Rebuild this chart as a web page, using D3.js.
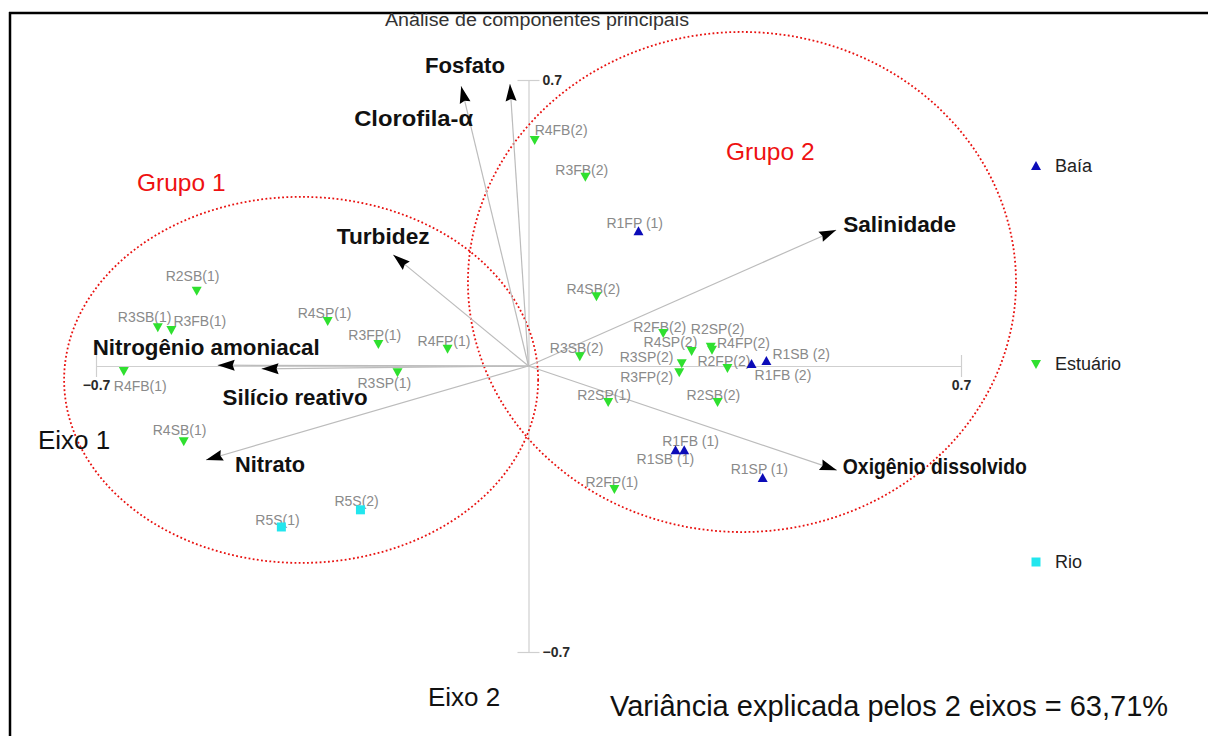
<!DOCTYPE html>
<html>
<head>
<meta charset="utf-8">
<script src="https://cdn.jsdelivr.net/npm/d3@7"></script>
<style>
  html, body { margin: 0; padding: 0; background: #fff; }
  svg { display: block; font-family: "Liberation Sans", Arial, sans-serif; }
</style>
</head>
<body>
<svg id="chart" width="1208" height="736"></svg>
<script>
// ---- Data: PCA biplot (loadings of variables and scores of samples) ----
const variableNames = ["Fosfato", "Clorofila-\u03b1", "Turbidez", "Salinidade",
  "Oxigênio dissolvido", "Nitrogênio amoniacal", "Silício reativo", "Nitrato"];
const variableAxis1 = [-0.030, -0.109, -0.219, 0.498, 0.499, -0.503, -0.432, -0.522];
const variableAxis2 = [0.690, 0.685, 0.272, 0.333, -0.255, 0.002, -0.007, -0.230];

const sampleNames = [
  "R2SB(1)", "R3SB(1)", "R3FB(1)", "R4SP(1)", "R3FP(1)", "R4FP(1)", "R3SP(1)", "R4FB(1)", "R4SB(1)",
  "R5S(1)", "R5S(2)",
  "R4FB(2)", "R3FB(2)", "R1FP (1)", "R4SB(2)", "R2FB(2)", "R2SP(2)", "R4SP(2)", "R4FP(2)", "R3SB(2)",
  "R3SP(2)", "R3FP(2)", "R2FP(2)", "R1SB (2)", "R1FB (2)", "R2SP(1)", "R2SB(2)",
  "R1FB (1)", "R1SB (1)", "R1SP (1)", "R2FP(1)"
];
const sampleGroup = [
  "Estuário", "Estuário", "Estuário", "Estuário", "Estuário", "Estuário", "Estuário", "Estuário", "Estuário",
  "Rio", "Rio",
  "Estuário", "Estuário", "Baía", "Estuário", "Estuário", "Estuário", "Estuário", "Estuário", "Estuário",
  "Estuário", "Estuário", "Estuário", "Baía", "Baía", "Estuário", "Estuário",
  "Baía", "Baía", "Baía", "Estuário"
];
const sampleAxis1 = [
  -0.537, -0.600, -0.578, -0.325, -0.243, -0.131, -0.212, -0.655, -0.558,
  -0.400, -0.272,
  0.010, 0.092, 0.178, 0.110, 0.218, 0.295, 0.264, 0.297, 0.083,
  0.248, 0.244, 0.322, 0.385, 0.361, 0.129, 0.306,
  0.252, 0.238, 0.379, 0.139
];
const sampleAxis2 = [
  0.184, 0.095, 0.088, 0.110, 0.054, 0.042, -0.015, -0.012, -0.184,
  -0.394, -0.352,
  0.553, 0.463, 0.330, 0.171, 0.081, 0.047, 0.037, 0.040, 0.024,
  0.007, -0.015, -0.005, 0.012, 0.005, -0.088, -0.088,
  -0.206, -0.206, -0.274, -0.301
];

const legendGroups = ["Baía", "Estuário", "Rio"];
const axisTicks = [-0.7, 0.7];
const explainedVariance = "63,71%";

// Groups outlined on the plane (centre and radii in axis units)
const groupNames = ["Grupo 1", "Grupo 2"];
const groupCenterAxis1 = [-0.368, 0.3455];
const groupCenterAxis2 = [-0.034, 0.2056];
const groupRadiusAxis1 = [0.3836, 0.4435];
const groupRadiusAxis2 = [0.448, 0.612];

// ---- Layout ----
const svg = d3.select("#chart");
const x = d3.scaleLinear().domain([-0.7, 0.7]).range([96, 961]);
const y = d3.scaleLinear().domain([-0.7, 0.7]).range([652, 80]);

const groupStyle = {
  "Baía": { color: "#0c0cb8", shape: "up" },
  "Estuário": { color: "#2fe02f", shape: "down" },
  "Rio": { color: "#22e6ee", shape: "square" }
};

function markerPath(shape) {
  if (shape === "up") return "M0,-5L5,4L-5,4Z";
  if (shape === "down") return "M0,5L5,-4L-5,-4Z";
  return "M-4.5,-4.5H4.5V4.5H-4.5Z";
}

// Label placement for the sample names (pixel offset of the label's left edge / centre line)
const sampleLabelOffset = {
  "R2SB(1)": [-31, -15], "R3SB(1)": [-40, -10], "R3FB(1)": [2, -9], "R4SP(1)": [-30, -8],
  "R3FP(1)": [-30, -9], "R4FP(1)": [-30, -8], "R3SP(1)": [-40, 11], "R4FB(1)": [-10, 15],
  "R4SB(1)": [-31, -11], "R5S(1)": [-26, -7], "R5S(2)": [-26, -9],
  "R4FB(2)": [0, -10], "R3FB(2)": [-30, -7], "R1FP (1)": [-32, -8], "R4SB(2)": [-30, -7],
  "R2FB(2)": [-30, -6], "R2SP(2)": [-20, -18], "R4SP(2)": [-48, -9], "R4FP(2)": [5, -7],
  "R3SB(2)": [-30, -8], "R3SP(2)": [-62, -6], "R3FP(2)": [-59, 5], "R2FP(2)": [-30, -7],
  "R1SB (2)": [6, -7], "R1FB (2)": [3, 11], "R2SP(1)": [-31, -7], "R2SB(2)": [-31, -7],
  "R1FB (1)": [-22, -9], "R1SB (1)": [-39, 9], "R1SP (1)": [-32, -9], "R2FP(1)": [-29, -7]
};

// Label placement for the variable names (offset from arrow tip, text anchor, width)
const variableLabelOffset = {
  "Fosfato": [-45, -11, "middle", 80],
  "Clorofila-\u03b1": [12, 40, "end", 119],
  "Turbidez": [-10, -11, "middle", 93],
  "Salinidade": [7, 2, "start", 113],
  "Oxigênio dissolvido": [6, 4, "start", 184],
  "Nitrogênio amoniacal": [-125, -10, "start", 227],
  "Silício reativo": [-39, 36, "start", 145],
  "Nitrato": [29, 12, "start", 70]
};

// Frame (top and left edges)
svg.append("line").attr("x1", 9).attr("x2", 1208).attr("y1", 13).attr("y2", 13)
  .attr("stroke", "#000").attr("stroke-width", 2.5);
svg.append("line").attr("x1", 10).attr("x2", 10).attr("y1", 12).attr("y2", 736)
  .attr("stroke", "#000").attr("stroke-width", 2.5);

// Title
svg.append("text").attr("x", 537).attr("y", 26).attr("text-anchor", "middle")
  .attr("font-size", 18).attr("fill", "#333")
  .attr("textLength", 304).attr("lengthAdjust", "spacingAndGlyphs")
  .text("Análise de componentes principais");

// Axes through the origin
const axisColor = "#cfcfcf";
const gx = svg.append("g").attr("transform", `translate(0,${y(0)})`)
  .call(d3.axisBottom(x).tickValues(axisTicks).tickSize(0).tickFormat(d3.format(".1f")));
gx.select(".domain").attr("stroke", axisColor).attr("stroke-width", 1.2);
gx.selectAll(".tick line").attr("y1", -11).attr("y2", 11).attr("stroke", axisColor).attr("stroke-width", 1.2);
gx.selectAll(".tick text").attr("y", 20).attr("dy", "0.32em")
  .attr("font-size", 14).attr("font-weight", "bold").attr("fill", "#2a2a2a")
  .attr("font-family", "Liberation Sans, Arial, sans-serif");

const gy = svg.append("g").attr("transform", `translate(${x(0)},0)`)
  .call(d3.axisRight(y).tickValues(axisTicks).tickSize(0).tickFormat(d3.format(".1f")));
gy.select(".domain").attr("stroke", axisColor).attr("stroke-width", 1.2);
gy.selectAll(".tick line").attr("x1", -11).attr("x2", 11).attr("stroke", axisColor).attr("stroke-width", 1.2);
gy.selectAll(".tick text").attr("x", 14).attr("dy", "0.32em")
  .attr("font-size", 14).attr("font-weight", "bold").attr("fill", "#2a2a2a")
  .attr("text-anchor", "start")
  .attr("font-family", "Liberation Sans, Arial, sans-serif");

// Group ellipses
groupNames.forEach((g, i) => {
  const cx = x(groupCenterAxis1[i]), cy = y(groupCenterAxis2[i]);
  const rx = x(groupRadiusAxis1[i]) - x(0), ry = y(0) - y(groupRadiusAxis2[i]);
  svg.append("ellipse").attr("cx", cx).attr("cy", cy).attr("rx", rx).attr("ry", ry)
    .attr("fill", "none").attr("stroke", "#e8110f").attr("stroke-width", 1.8)
    .attr("stroke-dasharray", "1.8,2.4");
});
svg.append("text").attr("x", 137).attr("y", 191).attr("font-size", 24.5).attr("fill", "#ee1111").text(groupNames[0]);
svg.append("text").attr("x", 726).attr("y", 160).attr("font-size", 24.5).attr("fill", "#ee1111").text(groupNames[1]);

// Variable vectors with arrowheads
const vectors = variableNames.map((n, i) => ({ name: n, a1: variableAxis1[i], a2: variableAxis2[i] }));
const vg = svg.append("g");
vectors.forEach(v => {
  const x0 = x(0), y0 = y(0), x1 = x(v.a1), y1 = y(v.a2);
  const ang = Math.atan2(y1 - y0, x1 - x0) * 180 / Math.PI;
  vg.append("line").attr("x1", x0).attr("y1", y0).attr("x2", x1).attr("y2", y1)
    .attr("stroke", "#bcbcbc").attr("stroke-width", 1.2);
  vg.append("path").attr("d", "M0,0L-17,-5.5L-15,0L-17,5.5Z")
    .attr("transform", `translate(${x1},${y1}) rotate(${ang})`).attr("fill", "#000");
  const o = variableLabelOffset[v.name];
  vg.append("text").attr("x", x1 + o[0]).attr("y", y1 + o[1]).attr("text-anchor", o[2])
    .attr("font-size", 21.5).attr("font-weight", "bold").attr("fill", "#111")
    .attr("textLength", o[3]).attr("lengthAdjust", "spacingAndGlyphs")
    .text(v.name);
});

// Sample scores
const samples = sampleNames.map((n, i) => ({ name: n, group: sampleGroup[i], a1: sampleAxis1[i], a2: sampleAxis2[i] }));
const sg = svg.append("g");
sg.selectAll("text").data(samples).join("text")
  .attr("x", d => x(d.a1) + sampleLabelOffset[d.name][0])
  .attr("y", d => y(d.a2) + sampleLabelOffset[d.name][1])
  .attr("dy", "0.35em").attr("font-size", 14).attr("fill", "#8a8a8a")
  .text(d => d.name);
sg.selectAll("path").data(samples).join("path")
  .attr("d", d => markerPath(groupStyle[d.group].shape))
  .attr("transform", d => `translate(${x(d.a1)},${y(d.a2)})`)
  .attr("fill", d => groupStyle[d.group].color);

// Legend
const legendY = [166, 364, 562];
legendGroups.forEach((g, i) => {
  svg.append("path").attr("d", markerPath(groupStyle[g].shape))
    .attr("transform", `translate(1036,${legendY[i]})`).attr("fill", groupStyle[g].color);
  svg.append("text").attr("x", 1055).attr("y", legendY[i]).attr("dy", "0.35em")
    .attr("font-size", 18).attr("fill", "#222").text(g);
});

// Axis names and explained variance
svg.append("text").attr("x", 38).attr("y", 449).attr("font-size", 26).attr("fill", "#111").text("Eixo 1");
svg.append("text").attr("x", 428).attr("y", 706).attr("font-size", 26).attr("fill", "#111").text("Eixo 2");
svg.append("text").attr("x", 610).attr("y", 716).attr("font-size", 29).attr("fill", "#111")
  .text("Variância explicada pelos 2 eixos = " + explainedVariance);
</script>
</body>
</html>
